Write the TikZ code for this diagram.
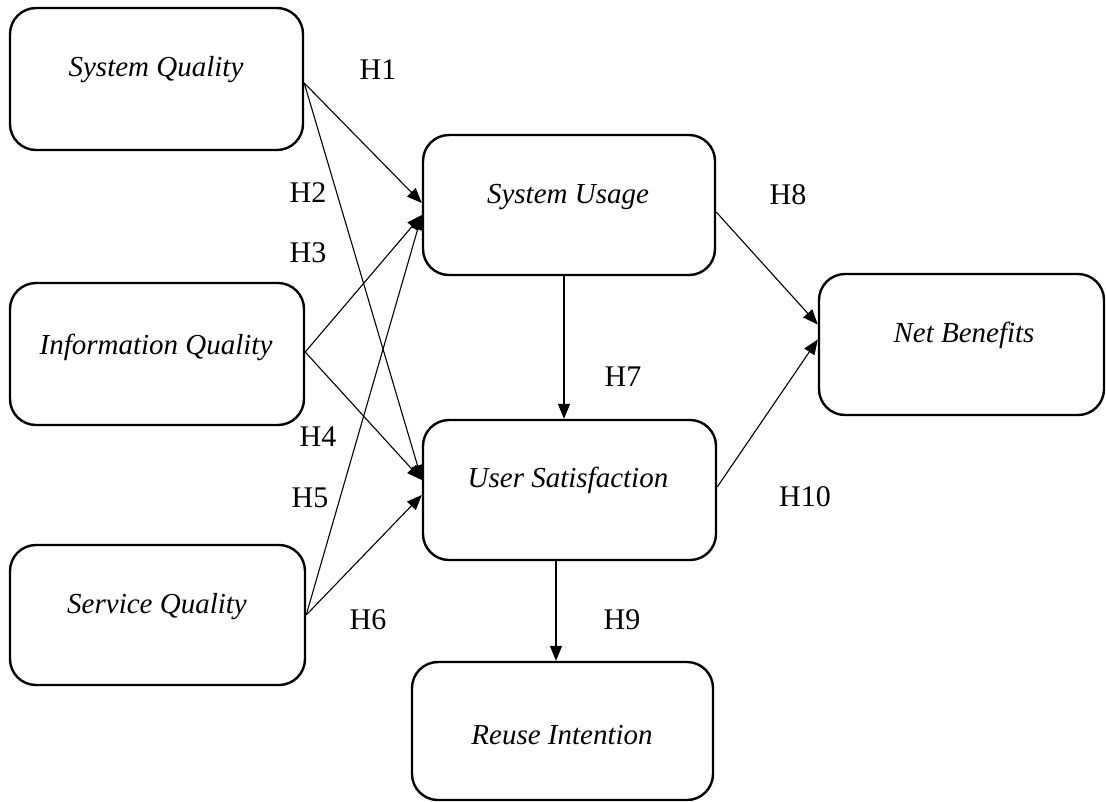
\documentclass[tikz,border=0pt]{standalone}
\usepackage{fontspec}
\setmainfont{Liberation Serif}
\usetikzlibrary{arrows.meta,calc}
\tikzset{
  box/.style={draw, line width=2.4pt, rounded corners=26pt, inner sep=0pt},
  boxtext/.style={inner sep=0pt, font=\fontsize{29}{34}\selectfont\itshape},
  hyp/.style={inner sep=0pt, font=\fontsize{30}{35}\selectfont},
  arr/.style={line width=1.1pt, -{Triangle[length=15pt,width=12pt]}},
  thickarr/.style={line width=1.4pt, -{Triangle[length=15pt,width=12pt]}}
}
\begin{document}
\begin{tikzpicture}[x=1pt,y=-1pt]
\useasboundingbox (0,0) rectangle (1106,801);
% boxes
\node[box, minimum width=293pt, minimum height=142pt] (sq) at (156.5,79) {};
\node[box, minimum width=294pt, minimum height=142pt] (iq) at (157,354) {};
\node[box, minimum width=295pt, minimum height=140pt] (svq) at (157.5,615) {};
\node[box, minimum width=292pt, minimum height=140pt] (su) at (569,205) {};
\node[box, minimum width=293pt, minimum height=140pt] (us) at (569.5,490) {};
\node[box, minimum width=285pt, minimum height=141pt] (nb) at (961.5,344.5) {};
\node[box, minimum width=301pt, minimum height=138pt] (ri) at (562.5,731) {};
% box texts
\node[boxtext] (tsq) at (156,70) {System Quality};
\node[boxtext] (tiq) at (156,347) {Information Quality};
\node[boxtext] (tsvq) at (157,607) {Service Quality};
\node[boxtext] (tsu) at (568,197) {System Usage};
\node[boxtext] (tus) at (568,480) {User Satisfaction};
\node[boxtext] (tnb) at (964,335) {Net Benefits};
\node[boxtext] (tri) at (562,735) {Reuse Intention};
% connectors
\draw[arr] ($(sq.east)+(0,4)$) -- ($(su.west)+(0,-2)$);
\draw[arr] ($(sq.east)+(0,4)$) -- ($(us.west)+(0,-10)$);
\draw[arr] ($(iq.east)+(0,-2)$) -- ($(su.west)+(0,10)$);
\draw[arr] ($(iq.east)+(0,-2)$) -- ($(us.west)+(0,-10)$);
\draw[arr] (svq.east) -- ($(su.west)+(0,10)$);
\draw[arr] (svq.east) -- ($(us.west)+(0,5)$);
\draw[thickarr] (su.south -| 564,0) -- (us.north -| 564,0);
\draw[arr] ($(su.east)+(0,7)$) -- ($(nb.west)+(0,-20)$);
\draw[arr] ($(us.east)+(0,-3)$) -- ($(nb.west)+(0,-5)$);
\draw[thickarr] (us.south -| 556,0) -- (ri.north -| 556,0);
% hypothesis labels
\node[hyp] (h1) at (378,70) {H1};
\node[hyp] (h2) at (308,193) {H2};
\node[hyp] (h3) at (308,253) {H3};
\node[hyp] (h4) at (318,437) {H4};
\node[hyp] (h5) at (310,498) {H5};
\node[hyp] (h6) at (368,620) {H6};
\node[hyp] (h7) at (623,377) {H7};
\node[hyp] (h8) at (788,195) {H8};
\node[hyp] (h9) at (622,620) {H9};
\node[hyp] (h10) at (805,497) {H10};
\end{tikzpicture}
\end{document}
